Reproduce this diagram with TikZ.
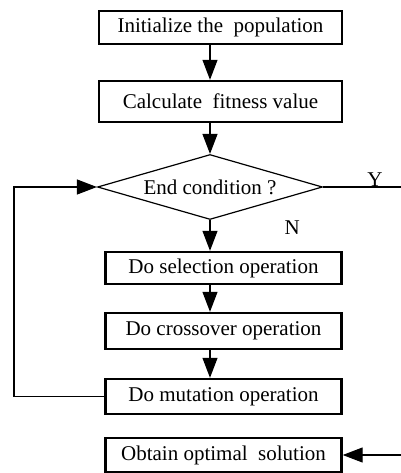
\documentclass[tikz,border=0pt]{standalone}
\usepackage{fontspec}
\setmainfont{Liberation Serif}
\usetikzlibrary{arrows.meta, positioning, shapes.geometric}
\newcommand{\fsz}{\fontsize{10.5}{12}\selectfont}
\tikzset{
  pb/.style={draw, line width=1.2pt, minimum width=121.5pt, inner sep=0pt, font=\fsz},
  ps/.style={pb, minimum width=118pt},
  dc/.style={draw, diamond, aspect=3.46, minimum width=112.5pt, minimum height=32.5pt, inner sep=0pt, line width=0.6pt, font=\fsz},
  a/.style={-{Triangle[length=10pt, width=7.5pt]}, line width=0.6pt},
  ln/.style={line width=0.6pt},
  lbl/.style={font=\fsz, inner sep=0pt},
}
\begin{document}
\begin{tikzpicture}[on grid]
\useasboundingbox (0,0) rectangle (200.5pt,-236.5pt);
\coordinate (lp) at (7pt,0);
\coordinate (rt) at (200.5pt,0);
\node[pb, minimum height=16.5pt] (init) at (110.25pt,-13.75pt) {Initialize the\ \ population};
\node[pb, minimum height=20.5pt, below=37pt of init] (fit) {Calculate\ \ fitness value};
\node[dc, below=42.75pt of fit, xshift=-5.25pt] (end) {End condition ?};
\node[ps, minimum height=16pt, below=40.5pt of end, xshift=6.75pt] (sel) {Do selection operation};
\node[ps, minimum height=18pt, below=31.5pt of sel] (cro) {Do crossover operation};
\node[ps, minimum height=17.5pt, below=32.75pt of cro] (mut) {Do mutation operation};
\node[ps, minimum height=17pt, below=29.25pt of mut] (opt) {Obtain optimal\ \ solution};

\draw[a] (init.south -| end.north) -- (fit.north -| end.north);
\draw[a] (fit.south -| end.north) -- (end.north);
\draw[a] (end.south) -- node[lbl, pos=0.25, right=37pt] (n) {N} (sel.north -| end.south);
\draw[a] (sel.south -| end.south) -- (cro.north -| end.south);
\draw[a] (cro.south -| end.south) -- (mut.north -| end.south);
\draw[a] (mut.west) -- (mut.west -| lp) |- (end.west);
\draw[ln] (end.east) -- node[lbl, pos=0.667, anchor=south] (y) {Y} (end.east -| rt);
\draw[a] (opt.east -| rt) -- (opt.east);
\end{tikzpicture}
\end{document}
